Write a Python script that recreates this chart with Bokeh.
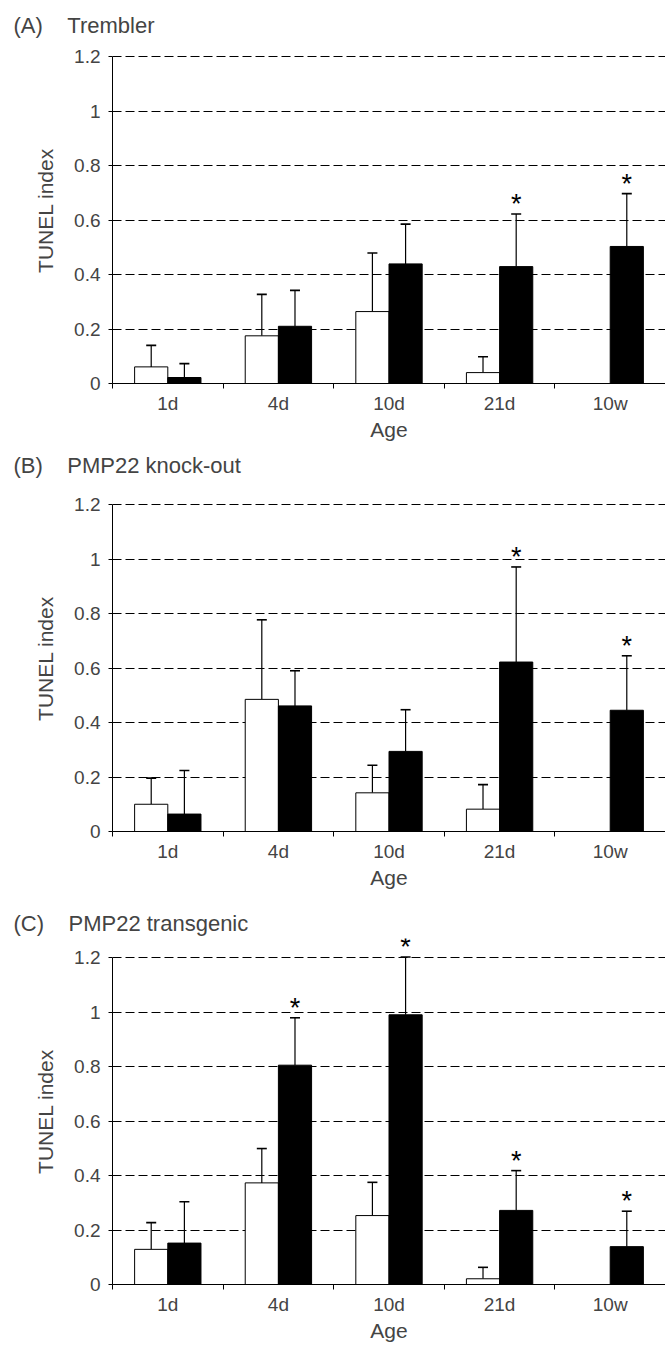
from bokeh.plotting import figure
from bokeh.models import (ColumnDataSource, FixedTicker, Range1d, Whisker, TeeHead,
                          NumeralTickFormatter)
from bokeh.layouts import column
from bokeh.embed import file_html
from bokeh.resources import INLINE
from bokeh.core.properties import value

ages = ["1d", "4d", "10d", "21d", "10w"]
y_ticks = [0, 0.2, 0.4, 0.6, 0.8, 1.0, 1.2]

# (A) Trembler  -- control (white) and mutant (black): mean and SD
trembler_ctrl = [0.061, 0.175, 0.264, 0.040, None]
trembler_ctrl_sd = [0.079, 0.152, 0.215, 0.058, None]
trembler_mut = [0.022, 0.210, 0.439, 0.429, 0.503]
trembler_mut_sd = [0.051, 0.132, 0.146, 0.193, 0.194]
trembler_sig = [False, False, False, True, True]

# (B) PMP22 knock-out
ko_ctrl = [0.100, 0.485, 0.142, 0.082, None]
ko_ctrl_sd = [0.096, 0.292, 0.101, 0.090, None]
ko_mut = [0.064, 0.461, 0.294, 0.622, 0.445]
ko_mut_sd = [0.160, 0.129, 0.153, 0.349, 0.200]
ko_sig = [False, False, False, True, True]

# (C) PMP22 transgenic
tg_ctrl = [0.129, 0.373, 0.253, 0.021, None]
tg_ctrl_sd = [0.098, 0.126, 0.122, 0.042, None]
tg_mut = [0.152, 0.805, 0.990, 0.272, 0.139]
tg_mut_sd = [0.152, 0.174, 0.212, 0.146, 0.130]
tg_sig = [False, True, True, True, True]

FONT = "Liberation Sans"
BAR_W = 0.3


def make_panel(title, ctrl, ctrl_sd, mut, mut_sd, sig, top_border, title_standoff):
    p = figure(frame_width=553, frame_height=346,
               x_range=Range1d(0, len(ages)), y_range=Range1d(0, 1.27),
               output_backend="svg", toolbar_location=None,
               min_border_left=112, min_border_right=0,
               min_border_top=top_border, min_border_bottom=60,
               title=title)
    p.outline_line_color = None
    p.background_fill_color = "white"
    p.border_fill_color = "white"

    centers = [i + 0.5 for i in range(len(ages))]

    cx, ctop, cy = [], [], []
    for c, m, s in zip(centers, ctrl, ctrl_sd):
        if m is not None:
            cx.append(c - BAR_W / 2)
            cy.append(m)
            ctop.append(m + s)
    mx = [c + BAR_W / 2 for c in centers]
    mtop = [m + s for m, s in zip(mut, mut_sd)]

    csrc = ColumnDataSource(dict(x=cx, y=cy, upper=ctop))
    msrc = ColumnDataSource(dict(x=mx, y=mut, upper=mtop))

    for src, fill in ((csrc, "white"), (msrc, "black")):
        p.add_layout(Whisker(source=src, base="x", lower="y", upper="upper",
                             dimension="height", line_color="black", line_width=1.2,
                             upper_head=TeeHead(size=10, line_color="black", line_width=1.6),
                             lower_head=None))
        p.vbar(x="x", top="y", bottom=0, width=BAR_W, source=src,
               fill_color=fill, line_color="black", line_width=1)

    sx = [x for x, s in zip(mx, sig) if s]
    sy = [t for t, s in zip(mtop, sig) if s]
    p.text(x=sx, y=sy, text=value("*"), text_align="center", text_baseline="middle",
           y_offset=-10, text_font=value(FONT), text_font_size="27px", text_color="black")

    # y axis
    yax = p.yaxis[0]
    yax.ticker = FixedTicker(ticks=y_ticks)
    yax.bounds = (0, 1.2)
    yax.formatter = NumeralTickFormatter(format="0.[0]")
    yax.axis_label = "TUNEL index"
    yax.axis_label_text_font = FONT
    yax.axis_label_text_font_size = "21px"
    yax.axis_label_text_font_style = "normal"
    yax.axis_label_standoff = 14
    yax.major_label_text_font = FONT
    yax.major_label_text_font_size = "19px"
    yax.major_label_standoff = 8
    yax.major_tick_out = 4
    yax.major_tick_in = 0
    yax.minor_tick_line_color = None
    yax.axis_line_color = "black"
    yax.major_tick_line_color = "black"

    # x axis
    xax = p.xaxis[0]
    xax.ticker = FixedTicker(ticks=centers, minor_ticks=list(range(len(ages) + 1)))
    xax.major_label_overrides = {c: a for c, a in zip(centers, ages)}
    xax.axis_label = "Age"
    xax.axis_label_text_font = FONT
    xax.axis_label_text_font_size = "21px"
    xax.axis_label_text_font_style = "normal"
    xax.axis_label_standoff = 1
    xax.major_label_text_font = FONT
    xax.major_label_text_font_size = "19px"
    xax.major_label_standoff = 4
    xax.major_tick_out = 0
    xax.major_tick_in = 0
    xax.minor_tick_out = 5
    xax.minor_tick_in = 0
    xax.minor_tick_line_color = "black"
    xax.axis_line_color = "black"

    p.xgrid.visible = False
    p.ygrid.ticker = FixedTicker(ticks=y_ticks)
    p.ygrid.grid_line_color = "black"
    p.ygrid.grid_line_dash = "9 4"
    p.ygrid.grid_line_width = 1

    p.title.text_font = FONT
    p.title.text_font_size = "22px"
    p.title.text_font_style = "normal"
    p.title.align = "left"
    p.title.offset = -99
    p.title.standoff = title_standoff
    return p


pa = make_panel("(A)\u00a0\u00a0\u00a0\u00a0Trembler", trembler_ctrl, trembler_ctrl_sd,
                trembler_mut, trembler_mut_sd, trembler_sig, 37, 0)
pb = make_panel("(B)\u00a0\u00a0\u00a0\u00a0PMP22 knock-out", ko_ctrl, ko_ctrl_sd,
                ko_mut, ko_mut_sd, ko_sig, 42, 15)
pc = make_panel("(C)\u00a0\u00a0\u00a0\u00a0PMP22 transgenic", tg_ctrl, tg_ctrl_sd,
                tg_mut, tg_mut_sd, tg_sig, 47, 5)

layout = column(pa, pb, pc)
open("out.html", "w").write(file_html(layout, INLINE))
